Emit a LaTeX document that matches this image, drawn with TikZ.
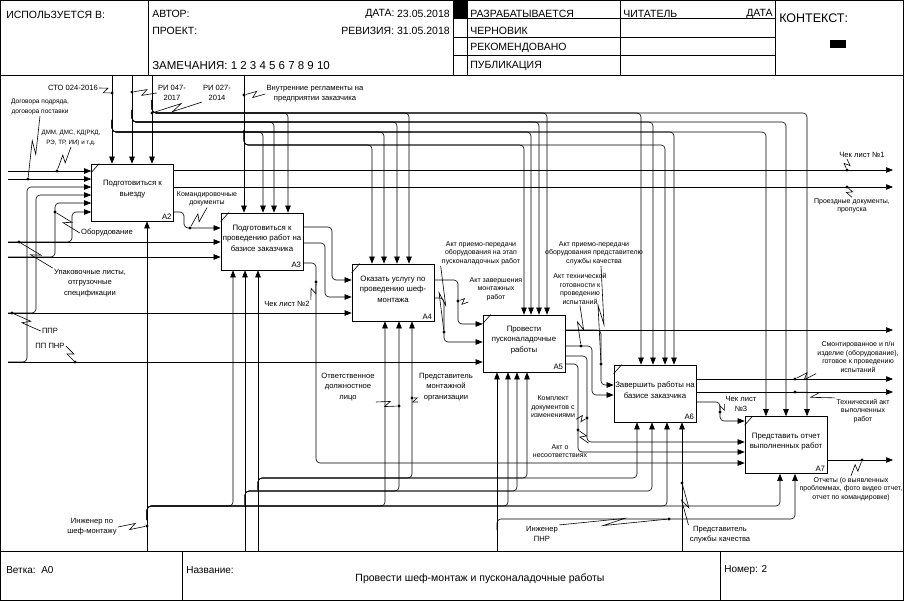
\documentclass[tikz,border=0pt]{standalone}
\usepackage{fontspec}
\setmainfont{Liberation Sans}
\usetikzlibrary{arrows.meta,calc}
\tikzset{
  act/.style={draw, line width=0.7pt, minimum width=82pt, minimum height=57pt, inner sep=0pt},
  act text/.style={align=center, font=\fontsize{7.8}{10.5}\selectfont, inner sep=0pt},
  act num/.style={anchor=south east, font=\fontsize{7.8}{9}\selectfont, inner sep=2pt},
  arr/.style={-{Triangle[length=7pt,width=5.5pt]}},
  lbl/.style={align=center, font=\fontsize{7.6}{10.3}\selectfont, inner sep=1pt},
  slbl/.style={align=center, font=\fontsize{7}{8.5}\selectfont, inner sep=1pt},
  hdr/.style={anchor=west, font=\fontsize{10.5}{12.5}\selectfont, inner sep=0pt},
  dot/.style={circle, fill, inner sep=0pt, minimum size=3.2pt},
  zz/.style={to path={-- ($(\tikztostart)!.6!(\tikztotarget)!3pt!90:(\tikztotarget)$) -- ($(\tikztostart)!.4!(\tikztotarget)!3pt!-90:(\tikztotarget)$) -- (\tikztotarget)}}
}
\begin{document}
\begin{tikzpicture}[x=1pt, y=-1pt, line width=0.6pt]
  \useasboundingbox (0,0) rectangle (904,601);
  \draw (0.5,0.5) rectangle (903.5,600.5);
  \draw (0,75) -- (904,75);
  \draw (0,551) -- (904,551);
  \foreach \x in {148,453,467,620,775} \draw (\x,0) -- (\x,75);
  \foreach \y in {18,37,55} \draw (453,\y) -- (775,\y);
  \fill (453,0) rectangle (467,18);
  \fill (830,40) rectangle (846,48);
  \draw (182,551) -- (182,601);
  \draw (720,551) -- (720,601);

  \node[hdr] (used) at (6,15) {ИСПОЛЬЗУЕТСЯ В:};
  \node[hdr] (author) at (152,14) {АВТОР:};
  \node[hdr] (date) at (365,14) {ДАТА:};
  \node[hdr, anchor=east] (dateval) at (450,14) {23.05.2018};
  \node[hdr] (project) at (152,31) {ПРОЕКТ:};
  \node[hdr, anchor=east] (rev) at (450,31) {РЕВИЗИЯ: 31.05.2018};
  \node[hdr, font=\fontsize{11.5}{13}\selectfont] (notes) at (152,66) {ЗАМЕЧАНИЯ: 1 2 3 4 5 6 7 8 9 10};
  \node[hdr] (st1) at (470,14) {РАЗРАБАТЫВАЕТСЯ};
  \node[hdr] (st2) at (470,31) {ЧЕРНОВИК};
  \node[hdr] (st3) at (470,48) {РЕКОМЕНДОВАНО};
  \node[hdr] (st4) at (470,66) {ПУБЛИКАЦИЯ};
  \node[hdr] (reader) at (623,14) {ЧИТАТЕЛЬ};
  \node[hdr, anchor=east] (rdate) at (773,14) {ДАТА};
  \node[hdr, font=\fontsize{12.5}{14}\selectfont] (context) at (779,18) {КОНТЕКСТ:};
  \node[hdr, font=\fontsize{10}{12}\selectfont] (branch) at (6,570) {Ветка:\ \ A0};
  \node[hdr, font=\fontsize{10}{12}\selectfont] (name) at (186,570) {Название:};
  \node[hdr, anchor=center] (title) at (480,579) {Провести шеф-монтаж и пусконаладочные работы};
  \node[hdr, font=\fontsize{10}{12}\selectfont] (number) at (724,570) {Номер: 2};

  \foreach \n/\cx/\cy/\txt in {
    2/132.5/192.5/{Подготовиться к\\выезду},
    3/262/241.5/{Подготовиться к\\проведению работ на\\базисе заказчика},
    4/393/292.5/{Оказать услугу по\\проведению шеф-\\монтажа},
    5/524/343.5/{Провести\\пусконаладочные\\работы},
    6/655/393.5/{Завершить работы на\\базисе заказчика},
    7/786/445/{Представить отчет\\выполненных работ}} {
    \node[act] (A\n) at (\cx,\cy) {};
    \node[act text] at (\cx,\cy-3.5) {\txt};
    \node[act num] at (A\n.south east) {A\n};
    \draw (A\n.north west) ++(0,9) -- ++(8,-9);
  }

  \foreach \y in {171,179,242,257,313,362} \coordinate (L\y) at (8,\y);
  \foreach \y in {170,187,330,379,392,460} \coordinate (R\y) at (893,\y);
  \foreach \x in {112,132,152,244} \coordinate (T\x) at (\x,75);
  \foreach \x in {147,245,258,497,682} \coordinate (B\x) at (\x,551);

  \draw[arr] (T112) -- (A2.north -| T112);
  \draw[arr] (T132) -- (A2.north -| T132);
  \draw[arr] (T152) -- (A2.north -| T152);
  \draw[arr] (T244) -- (A3.north -| T244);
  \foreach \xb/\bx in {263/A3,384/A4,531/A5,674/A6,766/A7}
    \draw[arr, rounded corners=4pt] (112,120) |- (\xb,132) -- (\bx.north -| \xb,0);
  \foreach \xb/\bx in {274/A3,397/A4,539/A5,653/A6,786/A7}
    \draw[arr, rounded corners=4pt] (132,110) |- (\xb,122) -- (\bx.north -| \xb,0);
  \foreach \xb/\bx in {288/A3,409/A4,547/A5,641/A6,807/A7}
    \draw[arr, rounded corners=4pt] (152,100) |- (\xb,113) -- (\bx.north -| \xb,0);
  \foreach \xb/\bx in {372/A4,524/A5,665/A6}
    \draw[arr, rounded corners=4pt] (244,130) |- (\xb,145) -- (\bx.north -| \xb,0);

  \draw[arr] (L171) -- (A2.west |- L171);
  \draw[arr] (L179) -- (A2.west |- L179);
  \draw[arr] (L242) -- (A3.west |- L242);
  \draw[arr] (L257) -- (A3.west |- L257);
  \draw[arr] (L313) -- (A4.west |- L313);
  \draw[arr] (L362) -- (A5.west |- L362);
  \draw[arr, rounded corners=4pt] (L362) -| (27,187) -- (A2.west |- 0,187);
  \draw[arr, rounded corners=4pt] (L313) -| (36,195) -- (A2.west |- 0,195);
  \draw[arr, rounded corners=4pt] (L257) -| (55,203) -- (A2.west |- 0,203);
  \draw[arr, rounded corners=4pt] (L242) -| (72,212) -- (A2.west |- 0,212);

  \draw[arr] (A2.east |- R170) -- (R170);
  \draw[arr] (A2.east |- R187) -- (R187);
  \draw[arr, rounded corners=4pt] (A2.east |- 0,212) -| (184,228) -- (A3.west |- 0,228);
  \draw[arr, rounded corners=4pt] (A3.east |- 0,227) -| (332,280) -- (A4.west |- 0,280);
  \draw[arr, rounded corners=4pt] (A3.east |- 0,243) -| (325,297) -- (A4.west |- 0,297);
  \draw[arr, rounded corners=4pt] (A3.east |- 0,263) -| (316,463) -- (A7.west |- 0,463);
  \draw[arr, rounded corners=4pt] (A4.east |- 0,280) -| (458,324) -- (A5.west |- 0,324);
  \draw[arr, rounded corners=4pt] (A4.east |- 0,298) -| (444,342) -- (A5.west |- 0,342);
  \draw[arr] (A5.east |- R330) -- (R330);
  \draw[arr, rounded corners=4pt] (A5.east |- R330) -| (601,385) -- (A6.west |- 0,385);
  \draw[arr, rounded corners=4pt] (A5.east |- 0,346) -| (592,395) -- (A6.west |- 0,395);
  \draw[arr, rounded corners=4pt] (A5.east |- 0,356) -| (587,442) -- (A7.west |- 0,442);
  \draw[arr, rounded corners=4pt] (A5.east |- 0,364) -| (578,452) -- (A7.west |- 0,452);
  \draw[arr] (A6.east |- R379) -- (R379);
  \draw[arr] (A6.east |- R392) -- (R392);
  \draw[arr, rounded corners=4pt] (A6.east |- 0,402) -| (720,421) -- (A7.west |- 0,421);
  \draw[arr] (A7.east |- R460) -- (R460);

  \draw[arr] (B147) -- (A2.south -| B147);
  \draw[arr] (B245) -- (A3.south -| B245);
  \draw[arr] (B258) -- (A3.south -| B258);
  \draw[arr] (B497) -- (A5.south -| B497);
  \draw[arr] (B682) -- (A6.south -| B682);
  \foreach \xb/\bx in {233/A3,385/A4,508/A5,667/A6,780/A7}
    \draw[arr, rounded corners=4pt] (147,520) |- (\xb,506) -- (\bx.south -| \xb,0);
  \foreach \xb/\bx in {399/A4,517/A5,652/A6}
    \draw[arr, rounded corners=4pt] (245,505) |- (\xb,491) -- (\bx.south -| \xb,0);
  \foreach \xb/\bx in {412/A4,527/A5,637/A6}
    \draw[arr, rounded corners=4pt] (258,490) |- (\xb,478) -- (\bx.south -| \xb,0);
  \draw[arr, rounded corners=4pt] (497,530) |- (795,519) -- (A7.south -| 795,0);

  \node[dot] (dSTO) at (112,93) {};
  \node[dot] (dRI47) at (132,92) {};
  \node[dot] (dRI27) at (152,113) {};
  \node[dot] (dVR) at (244,95) {};
  \node[dot] (dDog) at (28,179) {};
  \node[dot] (dDMM) at (57,171) {};
  \node[dot] (dUpak) at (19,242) {};
  \node[dot] (dObor) at (55,212) {};
  \node[dot] (dPPR) at (12,313) {};
  \node[dot] (dPPNR) at (75,362) {};
  \node[dot] (dKom) at (190,228) {};
  \node[dot] (dCh2) at (316,282) {};
  \node[dot] (dOtv) at (399,406) {};
  \node[dot] (dPred) at (412,398) {};
  \node[dot] (dIng) at (147,526) {};
  \node[dot] (dAP1) at (444,332) {};
  \node[dot] (dAZ) at (458,301) {};
  \node[dot] (dAP2) at (601,364) {};
  \node[dot] (dAT) at (581,346) {};
  \node[dot] (dKD) at (587,418) {};
  \node[dot] (dAN) at (578,430) {};
  \node[dot] (dIPNR) at (669,519) {};
  \node[dot] (dPSK) at (682,483) {};
  \node[dot] (dCh3) at (720,412) {};
  \node[dot] (dCh1) at (847,170) {};
  \node[dot] (dPD) at (847,187) {};
  \node[dot] (dSm) at (795,379) {};
  \node[dot] (dTA) at (795,392) {};
  \node[dot] (dOt) at (862,460) {};

  \node[lbl] (lSTO) at (73,88) {СТО 024-2016};
  \node[lbl] (lRI47) at (172,93) {РИ 047-\\2017};
  \node[lbl] (lRI27) at (217,93) {РИ 027-\\2014};
  \node[lbl] (lVR) at (315,94) {Внутренние регламенты на\\предприятии заказчика};
  \node[slbl, font=\fontsize{6.6}{9.5}\selectfont] (lDog) at (40,107) {Договора подряда,\\договора поставки};
  \node[slbl, font=\fontsize{6.2}{9.5}\selectfont] (lDMM) at (71,138) {ДММ, ДМС, КД(РКД,\\РЭ, ТР, ИИ) и т.д.};
  \node[lbl] (lUpak) at (90,283) {Упаковочные листы,\\отгрузочные\\спецификации};
  \node[lbl] (lObor) at (107,233) {Оборудование};
  \node[lbl] (lPPR) at (50,331) {ППР};
  \node[lbl] (lPPNR) at (50,346) {ПП ПНР};
  \node[slbl] (lKom) at (207,199) {Командировочные\\документы};
  \node[lbl] (lCh2) at (287,304) {Чек лист №2};
  \node[lbl] (lOtv) at (348,387) {Ответственное\\должностное\\лицо};
  \node[lbl] (lPred) at (446,387) {Представитель\\монтажной\\организации};
  \node[lbl] (lIng) at (92,527) {Инженер по\\шеф-монтажу};
  \node[slbl] (lAP1) at (481,253) {Акт приемо-передачи\\оборудования на этап\\пусконаладочных работ};
  \node[slbl] (lAZ) at (496,289) {Акт завершения\\монтажных\\работ};
  \node[slbl] (lAP2) at (594,253) {Акт приемо-передачи\\оборудования представителю\\службы качества};
  \node[slbl] (lAT) at (580,289) {Акт технической\\готовности к\\проведению\\испытаний};
  \node[slbl] (lKD) at (553,407) {Комплект\\документов с\\изменениями};
  \node[slbl] (lAN) at (560,451) {Акт о\\несоответствиях};
  \node[lbl] (lIPNR) at (542,534) {Инженер\\ПНР};
  \node[lbl] (lPSK) at (720,535) {Представитель\\службы качества};
  \node[lbl] (lCh3) at (741,404) {Чек лист\\№3};
  \node[lbl] (lCh1) at (862,155) {Чек лист №1};
  \node[slbl] (lPD) at (852,206) {Проездные документы,\\пропуска};
  \node[slbl] (lSm) at (858,357) {Смонтированное и п/н\\изделие (оборудование),\\готовое к проведению\\испытаний};
  \node[slbl] (lTA) at (863,411) {Технический акт\\выполненных\\работ};
  \node[slbl] (lOt) at (851,489) {Отчеты (о выявленных\\проблеммах, фото видео отчет,\\отчет по командировке)};

  \draw (lSTO.east) to[zz] (dSTO);
  \draw (dRI47) to[zz] (lRI47.west);
  \draw (dRI27) to[zz] (lRI27.south west);
  \draw (dVR) to[zz] (lVR.west);
  \draw (lDog.south) to[zz] (dDog);
  \draw (lDMM.south) to[zz] (dDMM);
  \draw (dUpak) to[zz] (lUpak.north west);
  \draw (dObor) to[zz] (lObor.west);
  \draw (dPPR) to[zz] (lPPR.west);
  \draw (lPPNR.east) to[zz] (dPPNR);
  \draw (lKom.south) to[zz] (dKom);
  \draw (lCh2.north east) to[zz] (dCh2);
  \draw (lOtv.south east) to[zz] (dOtv);
  \draw (lPred.south west) to[zz] (dPred);
  \draw (lIng.east) to[zz] (dIng);
  \draw (lAP1.south west) to[zz] (dAP1);
  \draw (lAZ.south west) to[zz] (dAZ);
  \draw (lAP2.south -| dAP2) to[zz] (dAP2);
  \draw (lAT.south) to[zz] (dAT);
  \draw (lKD.south east) to[zz] (dKD);
  \draw (lAN.north east) to[zz] (dAN);
  \draw (lIPNR.north east) to[zz] (dIPNR);
  \draw (lPSK.north west) to[zz] (dPSK);
  \draw (lCh3.west) to[zz] (dCh3);
  \draw (lCh1.south -| dCh1) to[zz] (dCh1);
  \draw (dPD) to[zz] (lPD.north);
  \draw (dSm) to[zz] (lSm.south west);
  \draw (dTA) to[zz] (lTA.north west);
  \draw (dOt) to[zz] (lOt.north);
\end{tikzpicture}
\end{document}
